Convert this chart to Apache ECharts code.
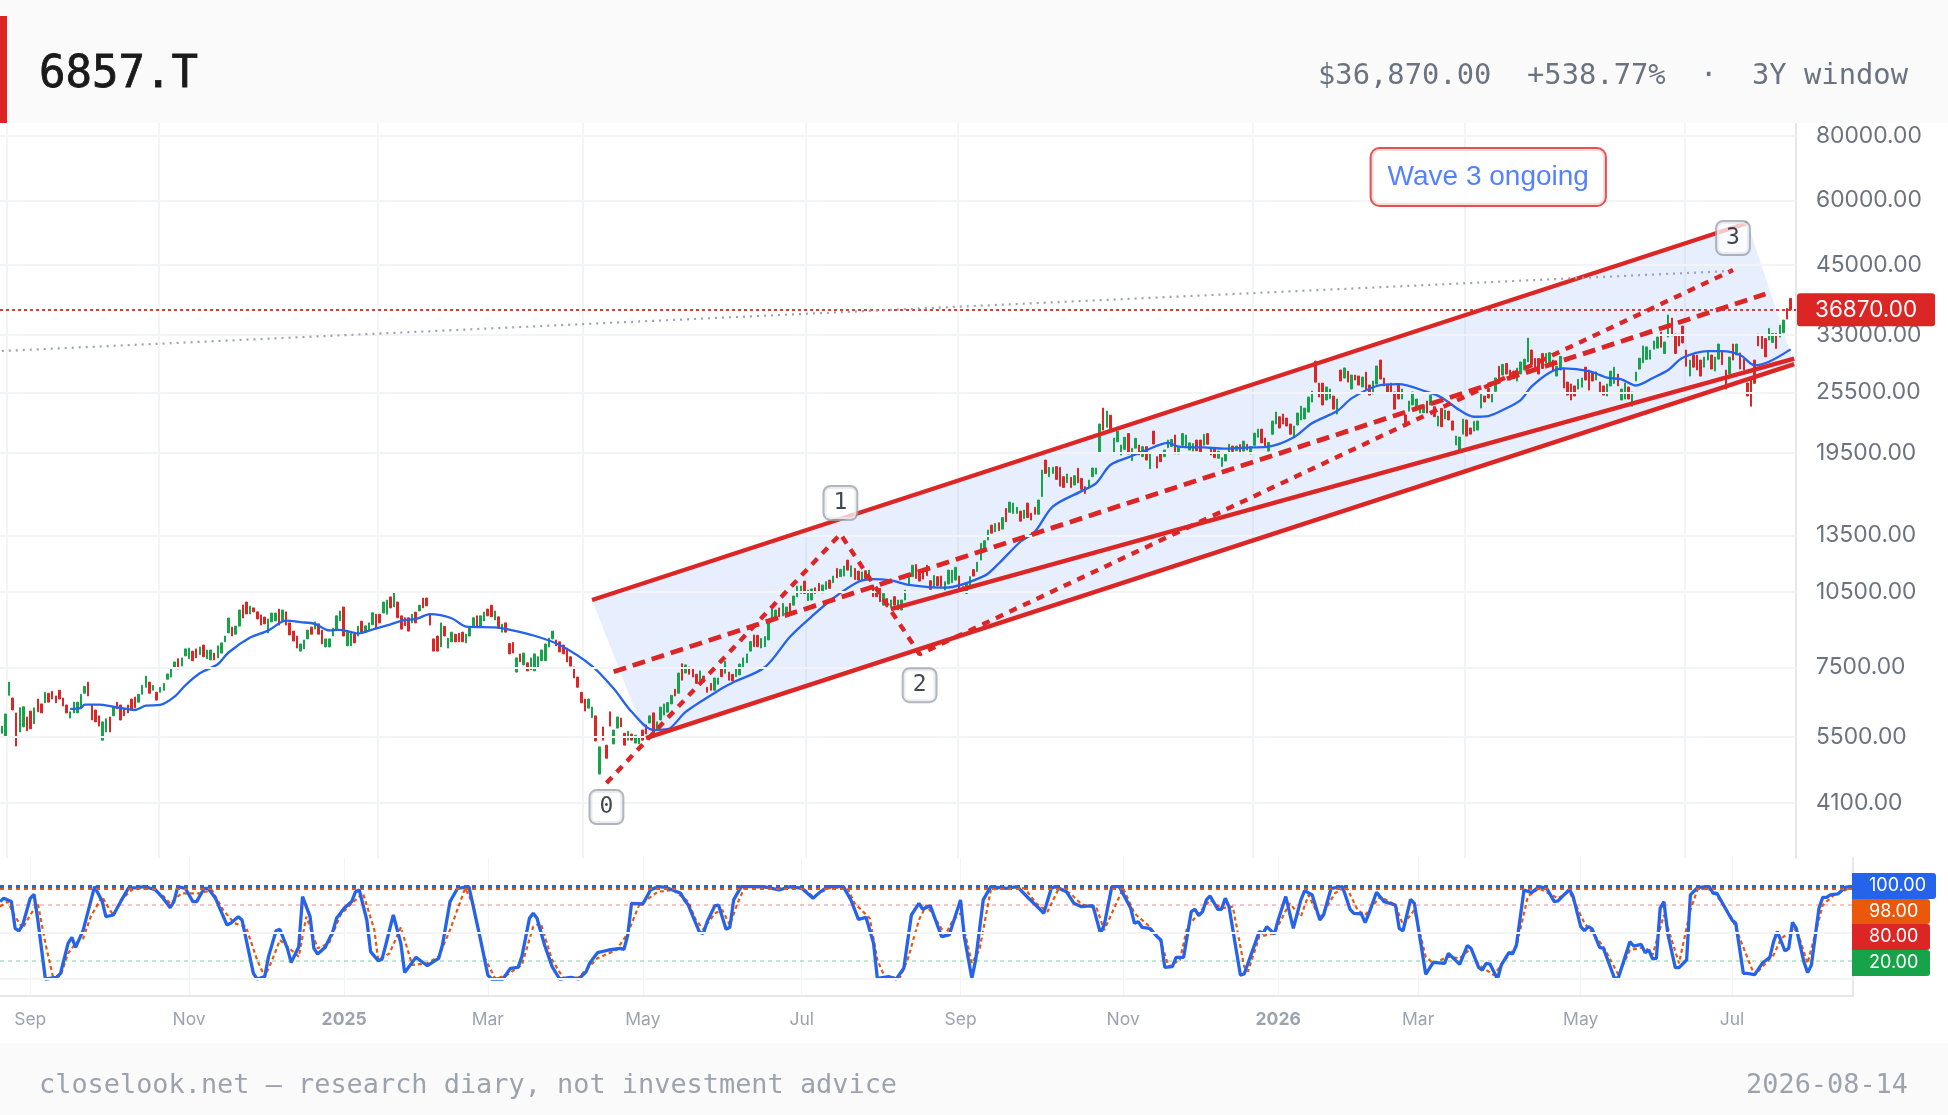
<!DOCTYPE html>
<html lang="en">
<head>
    <meta charset="UTF-8">
    <title>6857.T</title>
    <script src="https://cdn.jsdelivr.net/npm/echarts@6/dist/echarts.min.js"></script>
    <style>
        html, body { margin: 0; padding: 0; background: #fff; }
        #chart { width: 1948px; height: 1115px; }
    </style>
</head>
<body>
    <div id="chart"></div>

    <script>
        // candles: body only, green = close above open
        var barOpen = [
            5590,5520,6620,6540,6120,5620,5750,6010,6170,5830,6510,6370,6400,6680,6740,6600,6770,6540,6340,5980,
            6120,6120,6260,6680,7020,6340,6200,6040,5420,5620,6010,6040,6420,6340,6230,6340,6510,6570,6420,6650,
            6860,7020,6770,6710,6710,6770,7110,7180,7480,7790,7540,7890,7790,8060,8140,7930,8280,7790,7750,7990,
            7820,7990,8400,8740,8970,8690,9010,9900,10030,9510,9770,9600,9470,9380,8740,9180,9220,9720,9180,9600,
            9140,8810,8620,8060,8140,8510,8970,8890,9100,8850,8210,8210,8620,8850,9220,9810,8250,8250,8690,8620,
            9210,8770,8850,9060,9500,9500,9550,9500,10260,9810,10030,9430,9350,9350,9140,9590,9640,10210,10210,9500,
            8510,8620,8210,9000,8170,8400,8690,8730,8770,8360,8620,9000,9430,9000,9220,9720,9890,9260,9390,8770,
            9140,8340,8380,7340,7960,7580,7650,7410,7380,7480,7720,7720,8210,8510,8470,8400,8280,8170,7860,7510,
            7180,6710,6510,6250,5990,6040,4660,5750,5300,6150,5330,5720,5980,5590,5420,5570,5350,5330,5670,5800,
            5850,6120,5670,5930,6060,6140,6370,6800,6680,7620,7310,7510,7440,7270,7050,7210,6860,6980,6770,6950,
            7470,7300,7340,7270,7190,7250,7480,7650,8060,8660,8650,8170,8220,8470,9260,9390,
            9770,9430,9540,9970,9890,10270,10420,11010,10090,10120,10690,10900,10450,10610,11060,10930,11650,11230,11260,12090,
            11230,11650,11510,11030,11530,11230,10820,10660,10660,9890,10190,9810,10270,9680,9680,10120,10820,11230,11850,11390,
            11560,11820,11030,10740,11230,11260,10580,10870,10930,11060,11260,10740,10420,10700,11590,11490,12090,12560,13220,14130,
            13720,14280,13880,15220,14960,14890,14890,15040,14560,15590,14900,15300,14830,16040,18880,17530,17790,18340,18280,17530,
            17060,17480,16890,18200,
            17400,16770,16670,17530,17740,19510,23800,21850,23060,19510,20480,19310,19800,21250,18830,19910,20190,19170,20040,18170,
            21480,19170,19450,19170,19950,20050,21110,19400,20160,20100,19740,19650,20640,20640,20170,21250,19890,19830,19030,18350,
            18800,19480,20100,19680,20230,19650,20260,19400,20160,20900,21670,20830,19650,21180,22170,22900,23180,22770,22170,20900,
            22070,22570,22670,23380,24450,29340,26600,26600,24670,24850,25110,23170,28200,27210,28060,25910,27580,27460,26150,27930,
            26380,25340,26480,29480,27210,26480,26600,25570,26380,24780,23080,23480,24130,23800,23280,23310,24560,24130,23940,21970,
            23770,22670,23480,22470,20190,19740,21190,22570,21780,21480,21580,23800,25110,25980,24450,25640,28680,27570,29040,28200,
            28060,26840,27700,28200,29230,30830,29690,29690,30360,29080,28960,29480,27450,28200,28440,26730,26500,26270,25900,26120,
            28560,28200,27950,26970,26730,26270,25110,26270,26570,27700,24670,24780,26140,24000,26850,28320,29120,29560,29600,30950,
            31090,33400,30350,32660,35550,33090,33090,34300,30830,27450,30150,30150,29480,28560,29480,30150,28080,29600,30700,28200,
            27700,31660,30150,30430,29600,26620,27280,29480,33090,33020,32450,32230,31890,33190,32660,33300,37100,38800
        ];
        var barClose = [
            5770,6090,7020,6200,5280,6260,6290,5650,5700,6260,6150,6120,6710,6420,6510,6400,6510,6310,6120,6150,
            6420,6420,6650,6890,6600,5930,5880,5770,5880,5960,5620,6290,6230,5930,6040,6120,6200,6260,6650,6920,
            7210,6680,6920,6480,6860,6980,7280,7440,7680,7440,7820,8140,8170,7720,7820,8210,7860,8100,8100,7750,
            8250,8360,8620,9340,8620,9010,9680,9340,9510,9850,9600,9300,9050,9100,9300,9550,9550,9050,9680,9050,
            8660,8430,8170,8320,8470,8850,8690,9180,8690,8320,8510,8510,8930,9430,9640,8620,8770,8770,8360,9010,
            8770,9020,9140,9560,8890,9140,10030,10120,9770,10440,9350,8890,9030,8810,9500,9140,9890,9770,9860,9050,
            8060,8060,9140,8620,8540,8770,8400,8400,8400,8690,8970,9350,9000,9430,9590,9430,9390,9640,8930,9090,
            8770,7960,7990,7820,7680,7990,7380,7820,7960,7860,8100,8320,8540,8810,8250,8030,7960,7680,7540,7150,
            6860,6400,6170,6510,6280,5400,5260,5420,5000,5770,5670,6010,5750,5300,5640,5420,5540,5490,5420,5570,
            6040,5590,5880,6280,6370,6410,6620,6600,7310,7080,7580,7270,7180,6980,7380,7020,6710,6770,7150,7150,
            7190,7700,7080,7060,7490,7610,7820,7960,8410,8220,8220,8530,8600,9260,9770,9680,
            9390,9970,9810,9570,10300,10770,10770,10420,10580,10630,10420,10500,10820,10980,10660,11260,11170,11600,11770,11560,
            11790,11090,11060,11470,11140,11560,10270,10270,10040,10420,9810,10120,9890,10120,10120,10580,11360,11820,11140,11010,
            11110,11280,10610,11290,10770,10740,10980,11560,11560,11710,10580,10450,10870,11230,11260,11980,13030,13180,13820,13630,
            14230,13780,14610,14340,15660,15590,15300,14380,15110,14610,14450,14830,15800,18060,17790,18280,18280,17320,16810,16710,
            17740,16710,17610,17060,
            16570,16270,17270,18220,18220,22170,21580,23490,21710,20830,21480,20190,20900,19400,19890,20800,19310,20040,18880,19530,
            20280,18220,18740,19740,20640,20700,19400,19950,21250,21110,20380,20320,19680,19590,21170,20260,19310,19080,19650,19080,
            19450,20260,19620,20100,19590,20540,19740,20040,21280,21670,20380,20040,20420,22470,23380,21780,22170,21970,21180,21970,
            23280,24000,23800,25000,25680,26720,25000,24130,26150,25910,23690,24780,26850,28460,26720,27580,26970,26370,27330,25790,
            25220,26850,28710,27090,26260,25570,25570,23690,24780,25910,21970,24560,25570,24780,24130,24130,23280,25220,22900,22970,
            21900,23590,22570,21580,21010,20920,22670,21010,21190,22430,22470,25340,24450,24890,25340,27220,26970,28920,27700,26970,
            27170,28440,29230,29600,32510,28880,28200,27700,28400,30360,30460,28200,28680,29980,26030,25220,24670,25110,27050,27220,
            26970,25790,26850,27980,25570,25220,26500,28060,28560,26270,25910,26620,24780,25570,27950,29720,31400,31260,30830,32090,
            32660,31210,31950,36030,32850,30350,31400,31810,28680,29480,28560,28200,27450,29870,30700,28320,29870,31660,28880,25900,
            29870,29480,31660,28320,28200,25110,24000,26580,31400,31030,29900,33940,33190,31020,34430,35230,35380,36870
        ];

        // moving average, read at turning points
        var maBars = [
            19,22,23,27,31,37,40,44,48,51,55,60,63,69,74,79,83,87,91,94,99,
            104,108,112,115,119,125,129,137,140,148,155,164,170,175,181,185,190,200,
            203,212,219,225,231,238,242,247,252,262,273,277,283,287,292,
            300,304,308,313,318,324,327,334,340,347,352,359,364,371,375,382,388,396,
            400,405,409,413,417,422,425,430,434,441,446,450,454,459,463,467,474,478,483,487,491,497
        ];
        var maValues = [
            6230,6260,6350,6350,6290,6200,6320,6340,6580,6920,7300,7600,8010,8560,8830,9230,9170,9100,8840,8860,8720,
            8920,9080,9260,9290,9500,9330,8990,8960,8900,8630,8280,7540,6820,6150,5670,5690,6150,6820,
            7000,7500,8590,9400,10200,10980,11110,11040,10830,10690,11270,11910,13120,13710,15340,
            16440,17020,18470,19110,19740,20380,20040,19970,19860,19970,20040,20900,22240,23490,24850,26260,26480,25590,
            24960,23590,22900,22970,23590,24670,26180,27870,28400,28060,27250,27050,26320,27280,28200,29780,30690,30690,30150,28800,29260,30920
        ];

        // drawn lines, as [bar, price] ends
        var channelTopBars = [164, 485];
        var channelTopPrices = [10120, 54290];
        var channelBottomBars = [179, 498];
        var channelBottomPrices = [5470, 28960];
        var supportBars = [247, 498];
        var supportPrices = [9720, 29660];
        var midBars = [170, 490];
        var midPrices = [7352, 39560];
        var waveBars = [168, 233, 255, 481];
        var wavePrices = [4477, 13580, 7950, 44030];
        var waveNames = ['0', '1', '2', '3'];
        var waveOffsets = [24, -31, 31, -32];
        var greyBars = [0, 480];
        var greyPrices = [30690, 43830];
        var lastPrice = 36870;
        var noteBar = 413;
        var notePrice = 66650;
        var noteText = 'Wave 3 ongoing';

        var priceTicks = [80000, 60000, 45000, 33000, 25500, 19500, 13500, 10500, 7500, 5500, 4100];
        var priceGridBars = [2, 44, 105, 162, 224, 266, 348, 407, 468];

        // stochastic pane
        var monthBars = [8, 50, 91, 129, 170, 212, 254, 297, 338, 375, 418, 458];
        var monthLabels = ['Sep', 'Nov', '2025', 'Mar', 'May', 'Jul', 'Sep', 'Nov', '2026', 'Mar', 'May', 'Jul'];
        var stochLength = 491;
        var kBars = [
            0,1,3,4,5,6,8,9,10,12,15,16,18,19,20,22,25,27,28,30,32,34,36,38,41,43,45,46,47,49,51,52,54,55,57,60,61,63,64,67,68,
            70,71,73,74,76,77,79,80,82,83,84,86,88,89,91,93,94,95,97,98,100,101,102,104,106,107,110,113,116,117,119,121,124,127,129,
            130,133,135,137,138,140,141,142,144,146,148,151,153,155,156,158,161,164,165,166,167,170,172,174,176,179,
            180,181,182,184,185,186,187,189,190,192,193,194,196,199,202,206,209,212,215,217,219,223,225,227,229,231,232,235,237,239,
            241,243,244,246,249,251,254,255,257,258,260,262,266,269,272,275,276,278,279,282,284,286,289,291,292,294,295,296,299,
            300,301,302,304,306,307,308,310,311,313,315,316,317,318,319,320,322,323,324,325,328,329,333,334,335,337,338,340,342,
            344,345,347,349,350,352,355,357,358,360,361,362,364,366,369,370,371,373,374,376,377,379,382,383,386,388,389,391,392,393,394,396,397,399,
            400,401,403,405,407,409,411,412,415,416,418,419,420,421,423,424,427,428,431,432,434,435,436,437,438,439,440,441,443,444,446,447,449,
            452,453,454,458,459,461,462,464,466,468,469,470,472,473,474,475,477,478,479,481,482,483,484,486,488,489,490
        ];
        var kValues = [
            83.8,87.4,83.8,54.9,52,58.5,87.4,91.7,63.9,0,1.8,6.1,38.6,45.1,34.3,53,100,84.5,67.5,69.3,84.5,98.6,98.6,100,97,88.2,77.2,83.8,100,98.2,83.8,83.8,98.2,98.2,87.4,58.5,60.3,67.5,63.9,6.1,0,
            2.5,24.2,52.3,53.8,33.2,17.7,35,89.2,67.5,33.2,27,34.3,51.3,65.7,76.5,83.8,94.5,96.4,63.9,29.6,19.9,21.3,36.8,69.3,38.6,6.9,23.5,14.4,22.4,36.8,83.8,98.2,100,44,4.3,
            0,0,11.6,12.6,24.2,65.7,71.2,65.7,36.8,13.4,0,1.8,0,7.9,17.7,28.5,31.4,33.2,32.1,47.6,81.9,81.2,96.4,100,99.3,94.5,
            92.8,85.6,80.1,60.3,50.5,49.5,62.1,79.1,80.1,53.8,56,85.6,100,100,100,96.4,100,98.2,87.4,94.6,100,100,85.6,64.6,66.8,38.6,0.7,2.5,0,11.6,
            69.3,81.9,75.5,79.4,45.8,47.7,85.6,45.8,0.7,20.6,85.6,100,98.2,100,87.4,75.5,71.1,98.2,100,94.6,81.9,78.3,79.4,49.5,58.5,100,100,100,76.5,
            60.3,62.1,56,54.9,45.8,42.2,12.6,13.4,23.5,23.5,72.9,75.5,68.6,72.9,85.6,89.9,75.5,75.5,87.4,78.3,4.3,5.4,51.3,49.5,56.7,48.7,63.9,89.2,54.9,
            85.6,95.7,91,63.9,69.3,98.2,100,75.5,71.1,70.4,61,71.1,93.9,83.8,80.1,54.9,52,86.3,81.9,31.4,5.1,18.1,17,27.8,15.9,36.1,33.2,12.6,9.7,17,16.2,0,15.2,28.5,
            27.1,36.8,96.4,93.5,100,98.2,83.8,84.5,97.1,89.2,56.7,52.3,56.7,54.2,34.3,33.2,0,1.8,40.4,35.7,37.5,28.5,31.4,21.7,22.4,76.5,83.8,49.5,12.3,12.3,20.6,91,99.3,
            100,92.8,92.8,63.9,60.3,6.1,6.1,4.7,17,23.5,40.4,51.3,30.3,33.2,61.4,54.9,18.8,6.9,15.2,76.5,88.4,88.4,91,92.1,99.3,100,100
        ];
        var dBars = [
            0,2,4,6,8,10,12,14,16,18,20,22,24,27,29,30,32,35,40,43,45,48,51,53,56,59,62,65,68,70,72,74,77,79,81,84,87,90,93,96,99,100,103,106,109,113,116,119,123,125,128,131,134,138,141,143,146,149,153,158,163,166,169,174,178,
            182,184,186,189,191,193,195,197,206,212,215,219,224,226,230,232,234,238,240,243,245,247,250,252,254,257,259,262,266,271,274,277,280,283,286,290,292,294,297,300,304,307,309,312,314,317,320,323,326,329,330,333,337,341,344,
            346,349,353,356,359,361,365,369,371,374,377,379,383,386,389,391,395,399,401,404,407,412,415,419,424,428,431,435,437,440,444,447,449,453,458,463,464,469,471,475,478,482,485,489,490
        ];
        var dValues = [
            78.3,83.8,67.5,54.9,69.3,81.9,38.6,2.5,3.2,27.8,38.6,44,67.5,89.2,75,69.3,85.6,97,98.2,90.5,81.9,92.8,92.8,92.8,96.4,74.7,60.3,56.7,20.6,2.5,20.6,42.2,31.4,24.2,67.5,33.2,38.6,69.3,81.9,92.8,53,20.6,27.8,56,15.2,17,24.2,53,98.2,82,24.2,0,4.3,15.2,56.7,60.3,20.6,0.7,1.8,22.4,31.4,49.5,80,94.5,96.4,
            83.8,63.9,53.8,71.1,74.7,58.5,81.9,100,98.2,99.3,89.2,98.2,99.3,81.9,65.7,20.6,1.8,1.8,20.6,63.9,80.1,67.5,47.7,63.9,71.1,17,31.4,96.4,99.3,98.2,81.9,72.9,98.2,92.8,80.9,76.5,53,71.1,98.2,71.1,56.7,40.4,13.4,20.6,56.7,71.1,85.6,76.5,78.3,13.4,7.9,45.8,49.5,81.9,67.5,
            91,65.7,92.8,100,74.7,69.3,89.2,80.1,58.5,74.7,24.2,17,24.2,22.4,33.2,15.2,4.3,26,35,89.2,98.2,87.4,94.6,60.3,35,4.3,31.4,34.3,26,69.3,17,74.7,98.2,96.4,65.7,13.4,4.3,26,44,54.9,17,80.1,91,98.2,98
        ];
        var stochGuides = [100, 98, 80, 20];
        var stochGuideColors = ['#2563eb', '#ea580c', '#dc2626', '#16a34a'];
        var stochGridLevels = [50, 0];

        var fontSans = 'Inter, "Noto Sans", sans-serif';
        var fontMono = '"DejaVu Sans Mono", monospace';
        var red = '#dc2626';
        var green = '#16a34a';
        var blue = '#2563eb';

        function pairs(xs, ys) {
            return xs.map(function (x, i) { return [x, ys[i]]; });
        }

        // price pane bars
        var priceCategories = barOpen.map(function (_, i) { return String(i); });
        priceCategories.push(String(barOpen.length));
        var candleData = barOpen.map(function (o, i) {
            var c = barClose[i];
            return [o, c, Math.min(o, c), Math.max(o, c)];
        });

        // stochastic pane categories
        var stochCategories = [];
        for (var i = 0; i < stochLength; i++) {
            var at = monthBars.indexOf(i);
            stochCategories.push(at >= 0 ? monthLabels[at] : '');
        }

        function trendLine(name, bars, prices, width, dash) {
            return {
                name: name,
                type: 'line',
                xAxisIndex: 0,
                yAxisIndex: 0,
                data: pairs(bars, prices),
                symbol: 'none',
                silent: true,
                z: 5,
                lineStyle: { color: red, width: width, type: dash, cap: 'butt' }
            };
        }

        var chart = echarts.init(document.getElementById('chart'), null, { renderer: 'canvas' });

        var tags = [];
        var tagTops = [873, 899, 924, 950];
        var tagHeights = [26, 25, 26, 26];
        var tagWidths = [84, 78, 78, 78];
        stochGuides.forEach(function (v, i) {
            tags.push({
                type: 'rect',
                z: 50,
                shape: { x: 1852, y: tagTops[i], width: tagWidths[i], height: tagHeights[i], r: [0, 3, 3, 0] },
                style: { fill: stochGuideColors[i] }
            });
            tags.push({
                type: 'text',
                z: 51,
                x: 1869,
                y: tagTops[i] + tagHeights[i] / 2,
                style: { text: v.toFixed(2), fill: '#fff', font: '18px ' + fontSans, textVerticalAlign: 'middle' }
            });
        });

        var option = {
            animation: false,
            backgroundColor: '#ffffff',
            grid: [
                { left: 0, top: 123, width: 1796, height: 735 },
                { left: 0, top: 858, width: 1853, height: 138 }
            ],
            xAxis: [
                {
                    type: 'category',
                    gridIndex: 0,
                    data: priceCategories,
                    axisLine: { show: false },
                    axisTick: { show: false },
                    axisLabel: { show: false },
                    splitLine: {
                        show: true,
                        interval: function (i) { return priceGridBars.indexOf(i) >= 0; },
                        lineStyle: { color: '#f3f4f6', width: 2 }
                    }
                },
                {
                    type: 'category',
                    gridIndex: 1,
                    boundaryGap: false,
                    data: stochCategories,
                    axisLine: { show: true, onZero: false, lineStyle: { color: '#e5e7eb', width: 2 } },
                    axisTick: { show: false },
                    axisLabel: {
                        show: true,
                        interval: function (i) { return monthBars.indexOf(i) >= 0; },
                        formatter: function (v) { return /^\d{4}$/.test(v) ? '{year|' + v + '}' : v; },
                        rich: { year: { fontWeight: 700, color: '#9ca3af', fontSize: 17.5, fontFamily: fontSans } },
                        color: '#9ca3af',
                        fontSize: 17.5,
                        fontFamily: fontSans,
                        margin: 15
                    },
                    splitLine: {
                        show: true,
                        interval: function (i) { return monthBars.indexOf(i) >= 0; },
                        lineStyle: { color: '#f3f4f6', width: 1 }
                    }
                }
            ],
            yAxis: [
                {
                    type: 'log',
                    gridIndex: 0,
                    position: 'right',
                    logBase: 10,
                    min: 3206,
                    max: 84770,
                    axisLine: { show: true, lineStyle: { color: '#e5e7eb', width: 2 } },
                    axisTick: { show: false },
                    axisLabel: { show: false },
                    splitLine: { show: false }
                },
                {
                    type: 'value',
                    gridIndex: 1,
                    position: 'right',
                    min: -18.4,
                    max: 131,
                    axisLine: { show: true, lineStyle: { color: '#e5e7eb', width: 2 } },
                    axisTick: { show: false },
                    axisLabel: { show: false },
                    splitLine: { show: false }
                }
            ],
            series: [
                {
                    name: 'ticks',
                    type: 'line',
                    xAxisIndex: 0,
                    yAxisIndex: 0,
                    data: [],
                    silent: true,
                    clip: false,
                    z: 1,
                    markLine: {
                        silent: true,
                        symbol: 'none',
                        animation: false,
                        lineStyle: { color: '#f3f4f6', width: 2, type: 'solid' },
                        label: {
                            show: true,
                            position: 'end',
                            distance: 20,
                            color: '#6b7280',
                            fontSize: 22.8,
                            fontFamily: fontSans
                        },
                        data: priceTicks.map(function (t) {
                            return { yAxis: t, label: { formatter: t.toFixed(2) } };
                        })
                    }
                },
                {
                    name: 'channel',
                    type: 'custom',
                    xAxisIndex: 0,
                    yAxisIndex: 0,
                    silent: true,
                    z: 2,
                    encode: { x: 0, y: 1 },
                    data: pairs(
                        [channelTopBars[0], channelTopBars[1], channelBottomBars[1], channelBottomBars[0]],
                        [channelTopPrices[0], channelTopPrices[1], channelBottomPrices[1], channelBottomPrices[0]]
                    ),
                    renderItem: function (params, api) {
                        if (params.dataIndex !== 0) return null;
                        var corners = pairs(
                            [channelTopBars[0], channelTopBars[1], channelBottomBars[1], channelBottomBars[0]],
                            [channelTopPrices[0], channelTopPrices[1], channelBottomPrices[1], channelBottomPrices[0]]
                        ).map(function (p) { return api.coord(p); });
                        return {
                            type: 'polygon',
                            shape: { points: corners },
                            style: { fill: 'rgba(37,99,235,0.11)' }
                        };
                    }
                },
                {
                    name: '6857.T',
                    type: 'candlestick',
                    xAxisIndex: 0,
                    yAxisIndex: 0,
                    data: candleData,
                    barWidth: 2,
                    silent: true,
                    z: 3,
                    itemStyle: { color: green, color0: red, borderColor: green, borderColor0: red, borderWidth: 1 }
                },
                {
                    name: 'MA',
                    type: 'line',
                    xAxisIndex: 0,
                    yAxisIndex: 0,
                    data: pairs(maBars, maValues),
                    symbol: 'none',
                    smooth: 0.3,
                    silent: true,
                    z: 4,
                    lineStyle: { color: blue, width: 2.3 }
                },
                trendLine('channel top', channelTopBars, channelTopPrices, 4.4, 'solid'),
                trendLine('channel bottom', channelBottomBars, channelBottomPrices, 4.4, 'solid'),
                trendLine('support', supportBars, supportPrices, 4.4, 'solid'),
                trendLine('mid', midBars, midPrices, 4.8, [13, 7]),
                trendLine('wave', waveBars, wavePrices, 4.4, [8, 7]),
                {
                    name: 'grey',
                    type: 'line',
                    xAxisIndex: 0,
                    yAxisIndex: 0,
                    data: pairs(greyBars, greyPrices),
                    symbol: 'none',
                    silent: true,
                    z: 5,
                    lineStyle: { color: '#9ca3af', width: 2.2, type: [2, 5] }
                },
                {
                    name: 'last',
                    type: 'line',
                    xAxisIndex: 0,
                    yAxisIndex: 0,
                    data: [],
                    silent: true,
                    clip: false,
                    z: 8,
                    markLine: {
                        silent: true,
                        symbol: 'none',
                        animation: false,
                        lineStyle: { color: red, width: 1.8, type: [3, 3] },
                        label: {
                            show: true,
                            position: 'end',
                            distance: 1,
                            formatter: lastPrice.toFixed(2),
                            color: '#fff',
                            fontSize: 22.5,
                            fontFamily: fontSans,
                            backgroundColor: red,
                            borderRadius: 3,
                            padding: [5, 18, 5, 18]
                        },
                        data: [{ yAxis: lastPrice }]
                    }
                },
                {
                    name: 'waves',
                    type: 'scatter',
                    xAxisIndex: 0,
                    yAxisIndex: 0,
                    symbolSize: 0,
                    silent: true,
                    z: 9,
                    data: waveBars.map(function (b, i) {
                        return {
                            value: [b, wavePrices[i]],
                            label: {
                                show: true,
                                formatter: waveNames[i],
                                position: 'inside',
                                offset: [0, waveOffsets[i]],
                                color: '#111827',
                                fontSize: 23,
                                fontFamily: fontMono,
                                backgroundColor: 'rgba(255,255,255,0.92)',
                                borderColor: '#9ca3af',
                                borderWidth: 2,
                                borderRadius: 6,
                                padding: [5, 9, 4, 9]
                            }
                        };
                    })
                },
                {
                    name: 'note',
                    type: 'scatter',
                    xAxisIndex: 0,
                    yAxisIndex: 0,
                    symbolSize: 0,
                    silent: true,
                    z: 9,
                    data: [{
                        value: [noteBar, notePrice],
                        label: {
                            show: true,
                            formatter: noteText,
                            position: 'inside',
                            color: '#2962ff',
                            fontSize: 28,
                            fontFamily: '"Liberation Sans", Arial, sans-serif',
                            backgroundColor: '#fff',
                            borderColor: red,
                            borderWidth: 2,
                            borderRadius: 8,
                            padding: [15, 16, 13, 16]
                        }
                    }]
                },
                {
                    name: 'levels',
                    type: 'line',
                    xAxisIndex: 1,
                    yAxisIndex: 1,
                    data: [],
                    silent: true,
                    clip: false,
                    z: 1,
                    markLine: {
                        silent: true,
                        symbol: 'none',
                        animation: false,
                        lineStyle: { color: '#f3f4f6', width: 2, type: 'solid' },
                        label: { show: false },
                        data: stochGridLevels.map(function (v) { return { yAxis: v }; })
                    }
                },
                {
                    name: 'zero',
                    type: 'line',
                    xAxisIndex: 1,
                    yAxisIndex: 1,
                    data: [],
                    silent: true,
                    clip: false,
                    z: 1,
                    markLine: {
                        silent: true,
                        symbol: 'none',
                        animation: false,
                        lineStyle: { opacity: 0 },
                        label: {
                            show: true,
                            position: 'end',
                            distance: 16,
                            formatter: (0).toFixed(2),
                            color: '#9ca3af',
                            fontSize: 18,
                            fontFamily: fontSans
                        },
                        data: [{ yAxis: 0 }]
                    }
                },
                {
                    name: 'guides',
                    type: 'line',
                    xAxisIndex: 1,
                    yAxisIndex: 1,
                    data: [],
                    silent: true,
                    z: 2,
                    markLine: {
                        silent: true,
                        symbol: 'none',
                        animation: false,
                        label: { show: false },
                        data: [
                            { yAxis: stochGuides[2], lineStyle: { color: stochGuideColors[2], width: 1.5, type: [4, 4], opacity: 0.35 } },
                            { yAxis: stochGuides[3], lineStyle: { color: stochGuideColors[3], width: 1.5, type: [4, 4], opacity: 0.35 } },
                            { yAxis: stochGuides[1], lineStyle: { color: stochGuideColors[1], width: 3, type: [4, 4], opacity: 1 } },
                            { yAxis: stochGuides[0], lineStyle: { color: stochGuideColors[0], width: 3, type: [4, 4], opacity: 1 } }
                        ]
                    }
                },
                {
                    name: '%D',
                    type: 'line',
                    xAxisIndex: 1,
                    yAxisIndex: 1,
                    data: pairs(dBars, dValues),
                    symbol: 'none',
                    silent: true,
                    z: 3,
                    lineStyle: { color: '#ea580c', width: 2.2, type: [4, 3] }
                },
                {
                    name: '%K',
                    type: 'line',
                    xAxisIndex: 1,
                    yAxisIndex: 1,
                    data: pairs(kBars, kValues),
                    symbol: 'none',
                    silent: true,
                    z: 4,
                    lineStyle: { color: blue, width: 3.3 }
                }
            ],
            graphic: [
                { type: 'rect', z: 20, shape: { x: 0, y: 0, width: 1948, height: 123 }, style: { fill: '#fafafa' } },
                { type: 'rect', z: 21, shape: { x: 0, y: 16, width: 7, height: 107 }, style: { fill: red } },
                { type: 'text', z: 21, x: 39, y: 76, style: { text: '6857.T', fill: '#1a1a1a', stroke: '#1a1a1a', lineWidth: 0.8, font: '44px ' + fontMono, textVerticalAlign: 'middle' } },
                { type: 'text', z: 21, x: 1318, y: 77, style: { text: '$36,870.00', fill: '#6b7280', font: '28.8px ' + fontMono, textVerticalAlign: 'middle' } },
                { type: 'text', z: 21, x: 1527, y: 77, style: { text: '+538.77%', fill: '#6b7280', font: '28.8px ' + fontMono, textVerticalAlign: 'middle' } },
                { type: 'text', z: 21, x: 1700, y: 77, style: { text: '·', fill: '#6b7280', font: '28.8px ' + fontMono, textVerticalAlign: 'middle' } },
                { type: 'text', z: 21, x: 1908, y: 77, style: { text: '3Y window', fill: '#6b7280', font: '28.8px ' + fontMono, textAlign: 'right', textVerticalAlign: 'middle' } },
                { type: 'rect', z: 20, shape: { x: 0, y: 1043, width: 1948, height: 72 }, style: { fill: '#fafafa' } },
                { type: 'text', z: 21, x: 39, y: 1086, style: { text: 'closelook.net — research diary, not investment advice', fill: '#9ca3af', font: '26.9px ' + fontMono, textVerticalAlign: 'middle' } },
                { type: 'text', z: 21, x: 1908, y: 1086, style: { text: '2026-08-14', fill: '#9ca3af', font: '26.9px ' + fontMono, textAlign: 'right', textVerticalAlign: 'middle' } }
            ].concat(tags)
        };

        chart.setOption(option);
    </script>
</body>
</html>
